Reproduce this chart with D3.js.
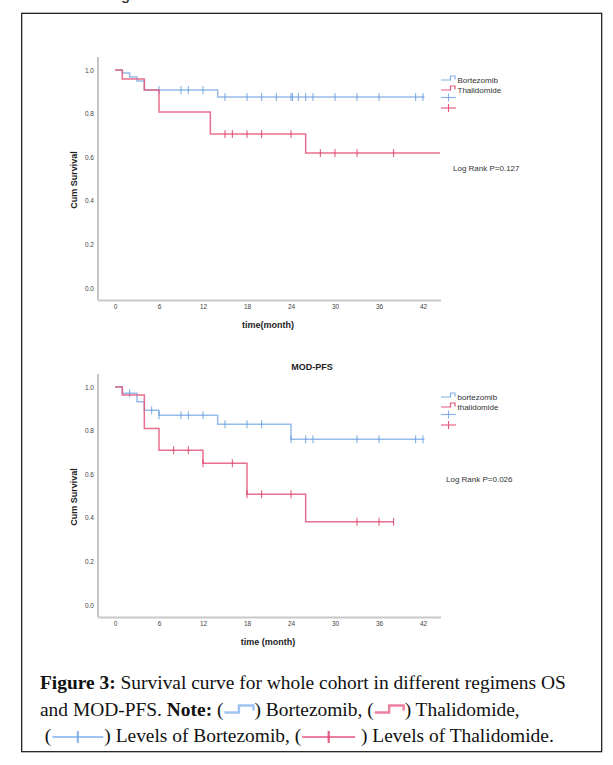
<!DOCTYPE html>
<html><head><meta charset="utf-8">
<script src="https://cdn.jsdelivr.net/npm/d3@7"></script>
<style>body{margin:0;background:#fff} svg{display:block}</style>
</head><body>
<svg id="c" width="613" height="765"></svg>
<script>
// ---------- data ----------
const monthTicks = [0, 6, 12, 18, 24, 30, 36, 42];
const survTicks = [0, 0.2, 0.4, 0.6, 0.8, 1.0];

// OS panel
const osBortTimes = [0, 1, 2, 3, 4, 14];
const osBortSurv = [1, 0.986, 0.968, 0.95, 0.908, 0.876];
const osBortEnd = 42.2;
const osBortCensor = [6, 9, 10, 12, 15, 18, 20, 22, 24, 24.2, 25, 26, 27, 30, 33, 36, 41, 42];

const osThalTimes = [0, 1, 4, 6, 13, 26];
const osThalSurv = [1, 0.959, 0.908, 0.807, 0.706, 0.619];
const osThalEnd = 44.3;
const osThalCensor = [15, 16, 18, 20, 24, 28, 30, 33, 38];

// MOD-PFS panel
const pfsBortTimes = [0, 1, 3, 4, 6, 14, 24];
const pfsBortSurv = [1, 0.971, 0.932, 0.893, 0.87, 0.829, 0.76];
const pfsBortEnd = 42.2;
const pfsBortCensor = [2, 5, 6, 9, 10, 12, 15, 18, 20, 24, 26, 27, 33, 36, 41, 42];

const pfsThalTimes = [0, 1, 4, 6, 12, 18, 26];
const pfsThalSurv = [1, 0.963, 0.81, 0.71, 0.65, 0.508, 0.382];
const pfsThalEnd = 38;
const pfsThalCensor = [8, 10, 12, 16, 18, 20, 24, 33, 36, 38];

const osLegend = ["Bortezomib", "Thalidomide"];
const pfsLegend = ["bortezomib", "thalidomide"];
const osLogRank = "Log Rank P=0.127";
const pfsLogRank = "Log Rank P=0.026";

// ---------- drawing ----------
const svg = d3.select("#c");
const BLUE = "#84b0e8", BLUE_D = "#5b93dc";
const RED = "#e5567d", RED_D = "#d2295a";
const SANS = '"Liberation Sans", Arial, sans-serif';

svg.append("rect").attr("width", 613).attr("height", 765).attr("fill", "#fff");
// cut glyph above frame (partially visible in the reference)
svg.append("text").attr("x", 121).attr("y", -0.5).attr("font-family", SANS)
  .attr("font-size", 16).attr("fill", "#222").text("g");
svg.append("rect").attr("x", 21.7).attr("y", 13.3).attr("width", 580).attr("height", 738.4)
  .attr("fill", "none").attr("stroke", "#111").attr("stroke-width", 1.2);

function panel(off, series, legendNames, logText, logX, logY, title, xTitle) {
  const g = svg.append("g");
  const x = d3.scaleLinear().domain([0, 42]).range([115, 423]);
  const y = d3.scaleLinear().domain([0, 1]).range([288 + off, 70 + off]);

  g.append("line").attr("x1", 98).attr("x2", 98).attr("y1", 57 + off).attr("y2", 300 + off)
    .attr("stroke", "#a0a0a0").attr("stroke-width", 1.2);
  g.append("line").attr("x1", 98).attr("x2", 441).attr("y1", 300.5 + off).attr("y2", 300.5 + off)
    .attr("stroke", "#c8c8c8").attr("stroke-width", 2);

  const ya = g.append("g").attr("transform", `translate(98,0)`)
    .call(d3.axisLeft(y).tickValues(survTicks).tickFormat(d3.format(".1f")).tickSize(0).tickPadding(4));
  ya.select(".domain").remove();
  ya.selectAll("text").attr("font-family", SANS).attr("font-size", 6.5).attr("fill", "#444");

  const xa = g.append("g").attr("transform", `translate(0,${300 + off})`)
    .call(d3.axisBottom(x).tickValues(monthTicks).tickSize(0).tickPadding(4));
  xa.select(".domain").remove();
  xa.selectAll("text").attr("font-family", SANS).attr("font-size", 6.5).attr("fill", "#444");

  g.append("text").attr("x", 268).attr("y", 328 + off).attr("text-anchor", "middle")
    .attr("font-family", SANS).attr("font-weight", "bold").attr("font-size", 9).attr("fill", "#222").text(xTitle);
  g.append("text").attr("transform", `translate(77,${180 + off}) rotate(-90)`).attr("text-anchor", "middle")
    .attr("font-family", SANS).attr("font-weight", "bold").attr("font-size", 9).attr("fill", "#222").text("Cum Survival");
  if (title) g.append("text").attr("x", 312).attr("y", 370).attr("text-anchor", "middle")
    .attr("font-family", SANS).attr("font-weight", "bold").attr("font-size", 9).attr("fill", "#222").text(title);

  const line = d3.line().x(d => x(d[0])).y(d => y(d[1])).curve(d3.curveStepAfter);
  series.forEach(s => {
    const pts = s.times.map((t, i) => [t, s.surv[i]]);
    pts.push([s.end, s.surv[s.surv.length - 1]]);
    g.append("path").attr("d", line(pts)).attr("fill", "none").attr("stroke", s.color)
      .attr("stroke-width", 1.5).attr("stroke-opacity", 0.85);
    const at = t => { let v = s.surv[0]; s.times.forEach((tt, i) => { if (tt <= t) v = s.surv[i]; }); return v; };
    g.selectAll(null).data(s.censor).enter().append("line")
      .attr("x1", d => x(d)).attr("x2", d => x(d))
      .attr("y1", d => y(at(d)) - 4).attr("y2", d => y(at(d)) + 4)
      .attr("stroke", s.dark).attr("stroke-width", 1).attr("stroke-opacity", 0.8);
  });

  const ly = [79.5 + off, 89.5 + off, 97.5 + off, 108 + off];
  [[BLUE, ly[0]], [RED, ly[1]]].forEach(([c, yy], i) => {
    g.append("path").attr("d", `M441,${yy + 0.5}H450.5V${yy - 3.5}H455V${yy}`)
      .attr("fill", "none").attr("stroke", c).attr("stroke-width", 1.2);
    g.append("text").attr("x", 457.5).attr("y", yy + 3).attr("font-family", SANS)
      .attr("font-size", 8).attr("fill", "#333").text(legendNames[i]);
  });
  [[BLUE, ly[2]], [RED, ly[3]]].forEach(([c, yy]) => {
    g.append("line").attr("x1", 441).attr("x2", 456).attr("y1", yy).attr("y2", yy).attr("stroke", c).attr("stroke-width", 1.1);
    g.append("line").attr("x1", 448.5).attr("x2", 448.5).attr("y1", yy - 4).attr("y2", yy + 4).attr("stroke", c).attr("stroke-width", 1.1);
  });
  g.append("text").attr("x", logX).attr("y", logY).attr("font-family", SANS)
    .attr("font-size", 8).attr("fill", "#333").text(logText);
}

panel(0, [
  { times: osBortTimes, surv: osBortSurv, end: osBortEnd, censor: osBortCensor, color: BLUE, dark: BLUE_D },
  { times: osThalTimes, surv: osThalSurv, end: osThalEnd, censor: osThalCensor, color: RED, dark: RED_D }
], osLegend, osLogRank, 453, 171, null, "time(month)");

panel(317, [
  { times: pfsBortTimes, surv: pfsBortSurv, end: pfsBortEnd, censor: pfsBortCensor, color: BLUE, dark: BLUE_D },
  { times: pfsThalTimes, surv: pfsThalSurv, end: pfsThalEnd, censor: pfsThalCensor, color: RED, dark: RED_D }
], pfsLegend, pfsLogRank, 446, 482, "MOD-PFS", "time (month)");

// ---------- caption ----------
const cap = svg.append("g").attr("font-family", '"Liberation Serif", "DejaVu Serif", serif').attr("fill", "#111");
const line1 = [{ t: "Figure 3:", b: true }, { t: " Survival curve for whole cohort in different regimens OS" }];
const line2 = [{ t: "and MOD-PFS. " }, { t: "Note:", b: true }, { t: " (" }, { icon: "stepB", w: 31 }, { t: ") Bortezomib, (" },
  { icon: "stepR", w: 31 }, { t: ") Thalidomide," }];
const line3 = [{ t: " (" }, { icon: "lvlB", w: 53 }, { t: ") Levels of Bortezomib, (" }, { icon: "lvlR", w: 55 }, { t: " ) Levels of Thalidomide." }];

function measure(segs, fs) {
  let w = 0;
  segs.forEach(s => {
    if (s.icon) { w += s.w; return; }
    const t = cap.append("text").attr("font-size", fs).attr("font-weight", s.b ? "bold" : "normal")
      .style("white-space", "pre").text(s.t);
    w += t.node().getComputedTextLength(); t.remove();
  });
  return w;
}
let fs = 16;
fs = fs * 526 / measure(line1, fs);

function icon(kind, x, base, w) {
  const c = kind.endsWith("B") ? "#8fbaf0" : "#ea6a8f";
  const ym = base - 5;
  if (kind.startsWith("step")) {
    cap.append("path").attr("d", `M${x + 1},${ym + 2}H${x + w * 0.5}V${ym - 5}H${x + w - 1}V${ym}`)
      .attr("fill", "none").attr("stroke", c).attr("stroke-width", 2.4).attr("stroke-opacity", 0.85);
  } else {
    cap.append("line").attr("x1", x + 1).attr("x2", x + w - 1).attr("y1", ym).attr("y2", ym)
      .attr("stroke", c).attr("stroke-width", 2).attr("stroke-opacity", 0.85);
    cap.append("line").attr("x1", x + w * 0.5).attr("x2", x + w * 0.5).attr("y1", ym - 6).attr("y2", ym + 6)
      .attr("stroke", kind.endsWith("B") ? "#6fa3ea" : "#d93a68").attr("stroke-width", 2.2).attr("stroke-opacity", 0.8);
  }
}
function layout(segs, x0, base) {
  let x = x0;
  segs.forEach(s => {
    if (s.icon) { icon(s.icon, x, base, s.w); x += s.w; return; }
    const t = cap.append("text").attr("x", x).attr("y", base).attr("font-size", fs)
      .attr("font-weight", s.b ? "bold" : "normal").style("white-space", "pre").text(s.t);
    x += t.node().getComputedTextLength();
  });
}
layout(line1, 40, 689);
layout(line2, 40, 715.5);
layout(line3, 40, 742);
</script>
</body></html>
